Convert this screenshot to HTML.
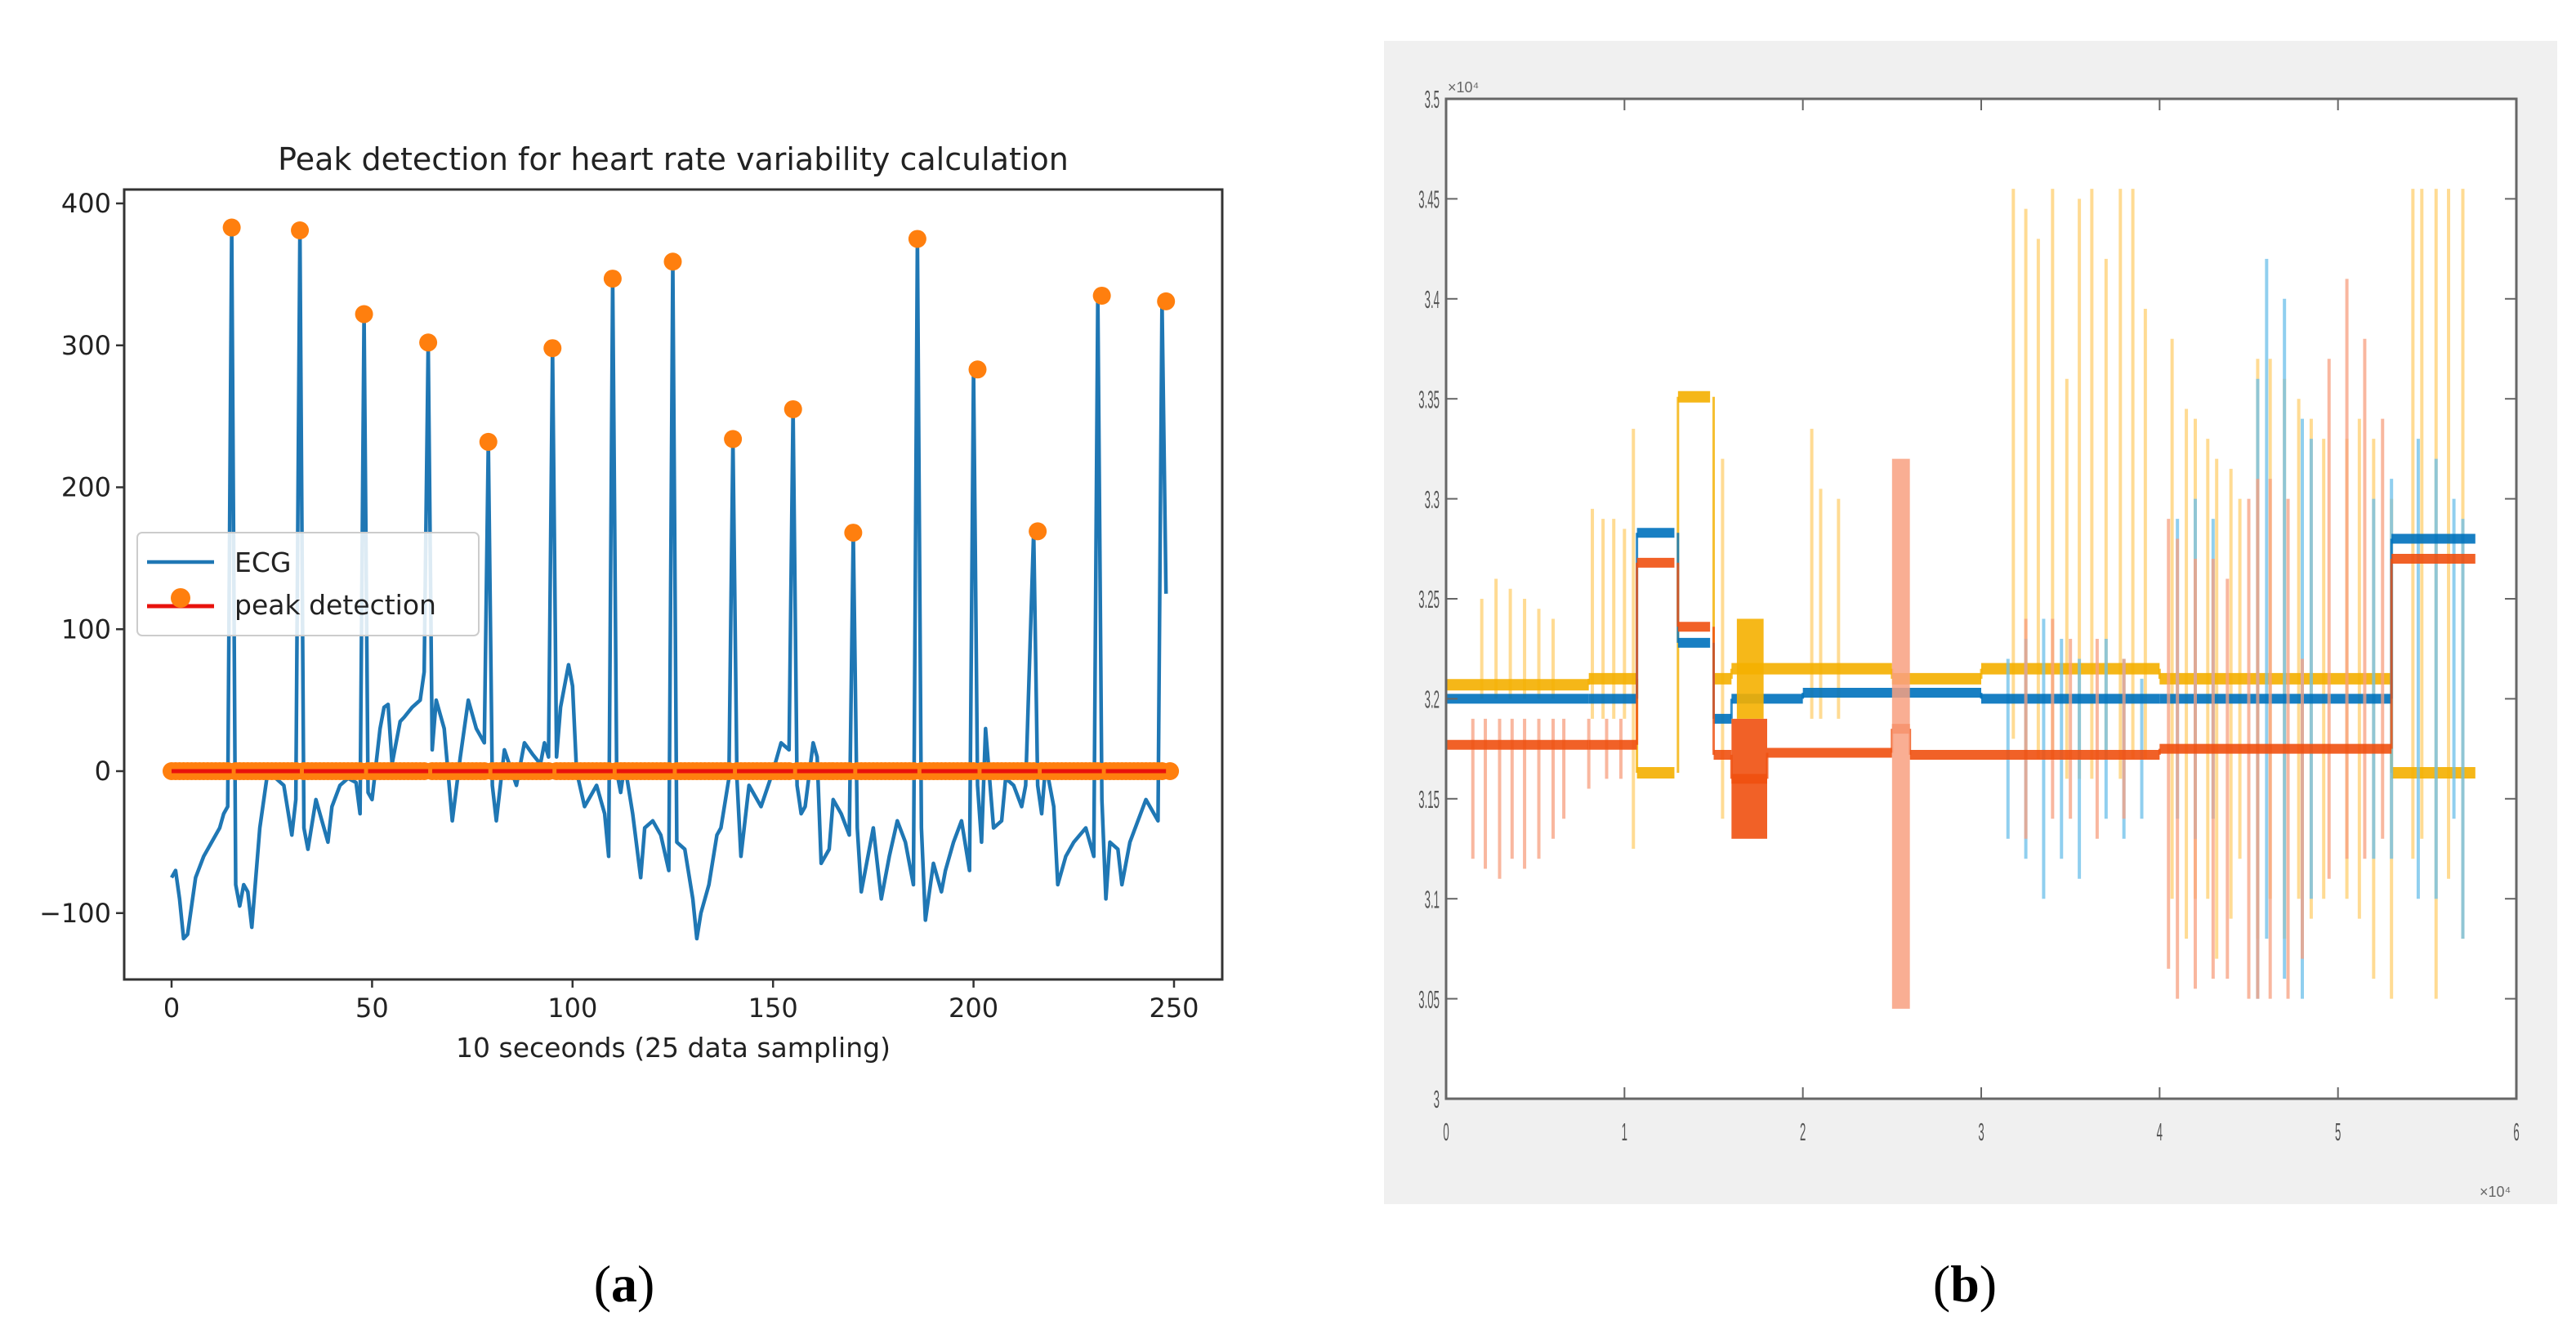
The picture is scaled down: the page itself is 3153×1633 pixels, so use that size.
<!DOCTYPE html>
<html><head><meta charset="utf-8"><style>
html,body{margin:0;padding:0;background:#fff;}
svg{display:block;}
</style></head><body>
<svg id="fig" xmlns="http://www.w3.org/2000/svg" width="3153" height="1633" viewBox="0 0 3153 1633">
<rect width="3153" height="1633" fill="#fff"/>
<g id="pa"></g>
<g id="pb"></g>
<text x="764" y="1593" font-family="Liberation Serif, serif" font-size="64" text-anchor="middle">(<tspan font-weight="bold">a</tspan>)</text>
<text x="2405" y="1593" font-family="Liberation Serif, serif" font-size="64" text-anchor="middle">(<tspan font-weight="bold">b</tspan>)</text>
</svg>
<script>
// ---------- Panel (a) data ----------
const ecgX = [0,1,2,3,4,5,6,8,10,12,13,14,15,16,17,18,19,20,22,24,26,28,30,31,32,33,34,36,38,39,40,42,44,46,47,48,49,50,52,53,54,55,56,57,58,60,62,63,64,65,66,68,70,72,74,76,78,79,80,81,83,86,88,90,92,93,94,95,96,97,99,100,101,103,105,106,108,109,110,111,112,113,115,117,118,120,122,124,125,126,128,130,131,132,134,136,137,139,140,141,142,144,147,150,152,154,155,156,157,158,160,161,162,164,165,167,169,170,171,172,173,175,177,179,181,183,185,186,187,188,190,192,193,195,197,199,200,201,202,203,205,207,208,210,212,213,215,216,217,218,220,221,223,225,228,230,231,232,233,234,236,237,239,241,243,246,247,248,249];
const ecgY = [-75,-70,-90,-118,-115,-95,-75,-60,-50,-40,-30,-25,383,-80,-95,-80,-85,-110,-40,0,-5,-10,-45,-20,381,-40,-55,-20,-40,-50,-25,-10,-5,-8,-30,322,-15,-20,30,45,47,5,20,35,38,45,50,70,302,15,50,30,-35,10,50,30,20,232,-10,-35,15,-10,20,12,5,20,10,298,10,45,75,60,0,-25,-15,-10,-30,-60,347,0,-15,5,-30,-75,-40,-35,-45,-70,359,-50,-55,-90,-118,-100,-80,-45,-40,-5,234,-5,-60,-10,-25,0,20,15,255,-10,-30,-25,20,10,-65,-55,-20,-30,-45,168,-40,-85,-70,-40,-90,-60,-35,-50,-80,375,-40,-105,-65,-85,-70,-50,-35,-70,283,-10,-50,30,-40,-35,-5,-10,-25,-10,169,-10,-30,5,-25,-80,-60,-50,-40,-60,335,-20,-90,-50,-55,-80,-50,-35,-20,-35,331,125];
const peakIdx = [15,32,48,64,79,95,110,125,140,155,170,186,201,216,232,248];
const peakVal = [383,381,322,302,232,298,347,359,234,255,168,375,283,169,335,331];
const xTicksA = [0,50,100,150,200,250];
const yTicksA = [-100,0,100,200,300,400];

// ---------- Panel (b) data (values in x10^4) ----------
const blueSegX0 = [0,0.8,1.07,1.3,1.5,1.6,2.0,3.0,4.0,5.3];
const blueSegX1 = [0.8,1.07,1.28,1.48,1.6,2.0,3.0,4.0,5.3,5.77];
const blueSegY  = [3.2,3.2,3.283,3.228,3.19,3.2,3.203,3.2,3.2,3.28];
const orangeSegX0 = [0,0.8,1.07,1.3,1.5,1.6,1.8,2.5,2.6,3.0,4.0,5.3];
const orangeSegX1 = [0.8,1.07,1.28,1.48,1.6,1.8,2.5,2.6,3.0,4.0,5.3,5.77];
const orangeSegY  = [3.177,3.177,3.268,3.236,3.172,3.16,3.173,3.185,3.172,3.172,3.175,3.27];
const yellowSegX0 = [0,0.8,1.07,1.3,1.5,1.6,1.8,2.5,3.0,4.0,5.3];
const yellowSegX1 = [0.8,1.07,1.28,1.48,1.6,1.8,2.5,3.0,4.0,5.3,5.77];
const yellowSegY  = [3.207,3.21,3.163,3.351,3.21,3.215,3.215,3.21,3.215,3.21,3.163];
const yellowSpkX = [0.2,0.28,0.36,0.44,0.52,0.6,0.82,0.88,0.94,1.0,1.05,1.55,2.05,2.1,2.2,3.18,3.25,3.32,3.4,3.48,3.55,3.62,3.7,3.78,3.85,3.92,4.07,4.15,4.2,4.27,4.32,4.4,4.45,4.55,4.62,4.7,4.78,4.85,4.92,5.05,5.12,5.2,5.3,5.42,5.47,5.55,5.62,5.7];
const yellowSpkT = [3.25,3.26,3.255,3.25,3.245,3.24,3.295,3.29,3.29,3.285,3.335,3.32,3.335,3.305,3.3,3.455,3.445,3.43,3.455,3.36,3.45,3.455,3.42,3.455,3.455,3.395,3.38,3.345,3.34,3.33,3.32,3.315,3.3,3.37,3.37,3.36,3.35,3.34,3.33,3.33,3.34,3.33,3.3,3.455,3.455,3.455,3.455,3.455];
const yellowSpkB = [3.2,3.2,3.2,3.2,3.2,3.2,3.19,3.19,3.19,3.19,3.125,3.14,3.19,3.19,3.19,3.18,3.17,3.17,3.17,3.16,3.16,3.16,3.17,3.16,3.17,3.17,3.1,3.08,3.1,3.1,3.07,3.09,3.12,3.08,3.1,3.08,3.1,3.09,3.1,3.1,3.09,3.06,3.05,3.12,3.13,3.05,3.11,3.08];
const orangeSpkX = [0.15,0.22,0.3,0.37,0.44,0.52,0.6,0.66,0.8,0.9,0.98,3.25,3.4,3.5,3.65,3.8,4.05,4.1,4.2,4.3,4.38,4.5,4.55,4.62,4.72,4.8,4.95,5.05,5.15,5.25];
const orangeSpkT = [3.19,3.19,3.19,3.19,3.19,3.19,3.19,3.19,3.19,3.19,3.19,3.24,3.24,3.23,3.23,3.22,3.29,3.28,3.27,3.27,3.26,3.3,3.31,3.31,3.3,3.22,3.37,3.41,3.38,3.34];
const orangeSpkB = [3.12,3.115,3.11,3.12,3.115,3.12,3.13,3.14,3.155,3.16,3.16,3.13,3.14,3.14,3.13,3.14,3.065,3.05,3.055,3.06,3.06,3.05,3.05,3.05,3.05,3.07,3.11,3.12,3.12,3.13];
const blueSpkX = [3.15,3.25,3.35,3.45,3.55,3.7,3.8,3.9,4.1,4.2,4.3,4.55,4.6,4.7,4.8,4.85,5.2,5.3,5.45,5.55,5.65,5.7];
const blueSpkT = [3.22,3.23,3.24,3.23,3.22,3.23,3.22,3.21,3.29,3.3,3.29,3.36,3.42,3.4,3.34,3.33,3.3,3.31,3.33,3.32,3.3,3.29];
const blueSpkB = [3.13,3.12,3.1,3.12,3.11,3.14,3.13,3.14,3.14,3.13,3.14,3.05,3.08,3.06,3.05,3.1,3.12,3.12,3.1,3.1,3.14,3.08];
const xTicksB = [0,1,2,3,4,5,6];
const yTicksB = [3,3.05,3.1,3.15,3.2,3.25,3.3,3.35,3.4,3.45,3.5];

const NS = "http://www.w3.org/2000/svg";
function mk(parent, tag, attrs, text){
  const e = document.createElementNS(NS, tag);
  for (const k in attrs) e.setAttribute(k, attrs[k]);
  if (text !== undefined) e.textContent = text;
  parent.appendChild(e);
  return e;
}

// ---------- Panel (a) ----------
(function(){
  const g = document.getElementById('pa');
  const L=152,R=1496,T=232,B=1199;
  const sx = v => 210 + v*(1437-210)/250;
  const sy = v => 944 - v*(944-249)/400;
  const font = '"DejaVu Sans", "Liberation Sans", sans-serif';
  const title = mk(g,'text',{x:(L+R)/2,y:208,'font-family':font,'font-size':38,'text-anchor':'middle',fill:'#222'},'Peak detection for heart rate variability calculation');
  
  
  let d = '';
  ecgX.forEach((x,i)=>{ d += (i?'L':'M')+sx(x).toFixed(1)+' '+sy(ecgY[i]).toFixed(1); });
  const ecg = mk(g,'path',{d:d,fill:'none',stroke:'#1f77b4','stroke-width':4.5,'stroke-linejoin':'round'});
  
  
  const det = [];
  for (let i=0;i<250;i++){ const k = peakIdx.indexOf(i); det.push(k>=0?peakVal[k]:0); }
  const dg = mk(g,'g',{});
  
  
  det.forEach((v,i)=>{
    const c = mk(dg,'circle',{cx:sx(i),cy:sy(v),r:11,fill:'#ff7f0e'});
    
    
  });
  let d2=''; det.forEach((v,i)=>{ if(v===0) d2 += 'M'+sx(i)+' '+sy(0)+'L'+sx(Math.min(i+1,249))+' '+sy(0); });
  const rl = mk(g,'path',{d:d2,stroke:'#e8120c','stroke-width':5,fill:'none'});
  
  
  const fr = mk(g,'rect',{x:L,y:T,width:R-L,height:B-T,fill:'none',stroke:'#333','stroke-width':3});
  
  
  xTicksA.forEach(t=>{
    mk(g,'line',{x1:sx(t),x2:sx(t),y1:B,y2:B+10,stroke:'#333','stroke-width':2.5});
    const tl = mk(g,'text',{x:sx(t),y:B+46,'font-family':font,'font-size':32,'text-anchor':'middle',fill:'#222'},String(t));
    
    
  });
  yTicksA.forEach(t=>{
    mk(g,'line',{x1:L-10,x2:L,y1:sy(t),y2:sy(t),stroke:'#333','stroke-width':2.5});
    const tl = mk(g,'text',{x:L-16,y:sy(t)+11,'font-family':font,'font-size':32,'text-anchor':'end',fill:'#222'},t<0?'\u2212'+(-t):String(t));
    
    
  });
  const xl = mk(g,'text',{x:(L+R)/2,y:1294,'font-family':font,'font-size':33,'text-anchor':'middle',fill:'#222'},'10 seceonds (25 data sampling)');
  
  
  const lg = mk(g,'g',{});
  
  
  mk(lg,'rect',{x:168,y:652,width:418,height:126,rx:6,fill:'rgba(255,255,255,0.85)',stroke:'#ccc','stroke-width':2});
  mk(lg,'line',{x1:180,x2:262,y1:688,y2:688,stroke:'#1f77b4','stroke-width':4.5});
  const l1 = mk(lg,'text',{x:287,y:700,'font-family':font,'font-size':33,fill:'#222'},'ECG');
  
  
  mk(lg,'line',{x1:180,x2:262,y1:742,y2:742,stroke:'#e8120c','stroke-width':5});
  mk(lg,'circle',{cx:221,cy:732,r:12,fill:'#ff7f0e'});
  const l2 = mk(lg,'text',{x:287,y:752,'font-family':font,'font-size':33,fill:'#222'},'peak detection');
  
  
})();

// ---------- Panel (b) ----------
(function(){
  const g = document.getElementById('pb');
  const L=1770,R=3080,T=121,B=1345;
  const sx = v => L + v/6*(R-L);
  const sy = v => B - (v-3)/0.5*(B-T);
  const font = '"Liberation Sans", sans-serif';
  const bg = mk(g,'rect',{x:1694,y:50,width:1436,height:1424,fill:'#f0f0f0'});
  
  
  mk(g,'rect',{x:L,y:T,width:R-L,height:B-T,fill:'#fff'});
  const series = [
    {n:'yellow',c:'#f5b000',l:'#ffd070',sx0:yellowSegX0,sx1:yellowSegX1,sy:yellowSegY,kx:yellowSpkX,kt:yellowSpkT,kb:yellowSpkB,w:14},
    {n:'blue',c:'#0072bd',l:'#6cc0ea',sx0:blueSegX0,sx1:blueSegX1,sy:blueSegY,kx:blueSpkX,kt:blueSpkT,kb:blueSpkB,w:12},
    {n:'orange',c:'#f05010',l:'#f8a080',sx0:orangeSegX0,sx1:orangeSegX1,sy:orangeSegY,kx:orangeSpkX,kt:orangeSpkT,kb:orangeSpkB,w:12}
  ];
  series.forEach(s=>{
    const sg = mk(g,'g',{});
    
    
    s.kx.forEach((x,i)=>{
      const ln = mk(sg,'line',{x1:sx(x),x2:sx(x),y1:sy(s.kt[i]),y2:sy(s.kb[i]),stroke:s.l,'stroke-width':4,opacity:0.75});
      
      
    });
    s.sx0.forEach((x0,i)=>{
      const ln = mk(sg,'line',{x1:sx(x0),x2:sx(s.sx1[i]),y1:sy(s.sy[i]),y2:sy(s.sy[i]),stroke:s.c,'stroke-width':s.w,opacity:0.9});
      
      
      if (i>0){
        const v = mk(sg,'line',{x1:sx(x0),x2:sx(x0),y1:sy(s.sy[i-1]),y2:sy(s.sy[i]),stroke:s.c,'stroke-width':3,opacity:0.8});
        
        
      }
    });
  });
  const blk1 = mk(g,'rect',{x:sx(1.6),y:sy(3.19),width:sx(1.8)-sx(1.6),height:sy(3.13)-sy(3.19),fill:'#f05010',opacity:0.9});
  
  
  const blk2 = mk(g,'rect',{x:sx(1.63),y:sy(3.24),width:sx(1.78)-sx(1.63),height:sy(3.19)-sy(3.24),fill:'#f5b000',opacity:0.9});
  
  
  const blk3 = mk(g,'rect',{x:sx(2.5),y:sy(3.32),width:sx(2.6)-sx(2.5),height:sy(3.045)-sy(3.32),fill:'#f8a080',opacity:0.85});
  
  
  const fr = mk(g,'rect',{x:L,y:T,width:R-L,height:B-T,fill:'none',stroke:'#666','stroke-width':3});
  
  
  xTicksB.forEach(t=>{
    mk(g,'line',{x1:sx(t),x2:sx(t),y1:B,y2:B-14,stroke:'#666','stroke-width':2});
    mk(g,'line',{x1:sx(t),x2:sx(t),y1:T,y2:T+14,stroke:'#666','stroke-width':2});
    const tl = mk(g,'text',{x:sx(t),y:B+48,'font-family':font,'font-size':22,'text-anchor':'middle',fill:'#555',transform:'translate('+sx(t)+','+(B+40)+') scale(0.6,1.4) translate('+(-sx(t))+','+(-(B+40))+')'},String(t));
    
    
  });
  yTicksB.forEach(t=>{
    mk(g,'line',{x1:L,x2:L+14,y1:sy(t),y2:sy(t),stroke:'#666','stroke-width':2});
    mk(g,'line',{x1:R,x2:R-14,y1:sy(t),y2:sy(t),stroke:'#666','stroke-width':2});
    const tl = mk(g,'text',{x:L-8,y:sy(t)+8,'font-family':font,'font-size':22,'text-anchor':'end',fill:'#555',transform:'translate('+(L-8)+','+sy(t)+') scale(0.6,1.4) translate('+(-(L-8))+','+(-sy(t))+')'},String(t));
    
    
  });
  const ye = mk(g,'text',{x:L+2,y:T-8,'font-family':font,'font-size':18,fill:'#666'},'\u00d710\u2074');
  
  
  const xe = mk(g,'text',{x:R-45,y:B+120,'font-family':font,'font-size':18,fill:'#666'},'\u00d710\u2074');
  
  
})();
</script>
</body></html>
